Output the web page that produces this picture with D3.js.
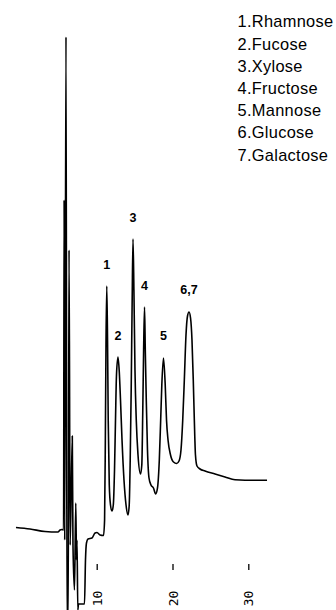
<!DOCTYPE html>
<html>
<head>
<meta charset="utf-8">
<script src="https://cdn.jsdelivr.net/npm/d3@7"></script>
<style>
  html, body { margin: 0; padding: 0; background: #fff; }
  svg { display: block; }
</style>
</head>
<body>
<svg id="chart" width="336" height="610"></svg>
<script>
// Retention time (min)
const time = [-0.65, 1.20, 3.18, 4.89, 5.16, 5.42, 5.63, 5.70, 5.78, 5.95, 6.08, 6.24, 6.35, 6.50, 6.78, 6.87, 7.07, 7.24, 7.34, 7.40, 7.51, 7.60, 8.39, 8.52, 8.65, 8.85, 9.38, 9.78, 10.04, 10.44, 10.90, 11.04, 11.14, 11.23, 11.33, 11.43, 11.52, 11.66, 11.82, 12.02, 12.19, 12.35, 12.48, 12.61, 12.81, 12.98, 13.14, 13.34, 13.60, 13.87, 14.13, 14.29, 14.42, 14.55, 14.68, 14.79, 14.91, 15.05, 15.22, 15.45, 15.78, 15.95, 16.08, 16.19, 16.31, 16.41, 16.54, 16.70, 16.90, 17.16, 17.49, 17.78, 18.02, 18.26, 18.44, 18.59, 18.81, 19.04, 19.21, 19.41, 19.74, 20.13, 20.55, 20.86, 21.12, 21.35, 21.56, 21.78, 21.98, 22.18, 22.38, 22.57, 22.74, 22.88, 23.03, 23.23, 23.63, 24.29, 25.61, 26.93, 28.25, 29.57, 32.47];
// Detector signal (relative units)
const signal = [13.49, 13.23, 12.79, 12.70, 13.05, 13.14, 13.05, 71.25, 11.29, 100.0, -2.82, -2.82, 62.43, 10.41, 29.63, 10.41, 2.47, 17.81, 7.76, 11.29, -1.06, 0, 0, 7.76, 10.76, 11.46, 11.64, 12.52, 12.61, 12.17, 12.08, 14.81, 28.92, 46.56, 56.08, 46.56, 32.45, 20.99, 17.46, 16.40, 17.46, 23.63, 32.45, 40.39, 43.56, 40.92, 35.98, 28.92, 21.87, 17.46, 15.70, 17.46, 25.40, 37.74, 53.62, 64.37, 55.38, 41.27, 32.45, 26.28, 22.93, 24.52, 34.22, 44.80, 52.38, 44.80, 35.98, 27.16, 22.22, 20.99, 20.46, 19.40, 20.46, 25.40, 32.45, 38.62, 43.39, 38.62, 32.45, 28.92, 26.28, 25.04, 24.78, 25.22, 27.16, 32.45, 39.51, 47.44, 50.79, 51.50, 50.44, 46.56, 39.51, 32.45, 26.28, 24.34, 23.81, 23.46, 22.93, 22.40, 21.90, 21.82, 21.82];

// Peak annotations
const peakLabels = ["1", "2", "3", "4", "5", "6,7"];
const peakTimes  = [11.33, 12.81, 14.79, 16.31, 18.81, 22.18];
const peakValues = [56.08, 43.56, 64.37, 52.38, 43.39, 51.50];

// Legend
const legendItems = ["1.Rhamnose", "2.Fucose", "3.Xylose", "4.Fructose", "5.Mannose", "6.Glucose", "7.Galactose"];

// Axis ticks
const tickValues = [10, 20, 30];
const tickLabels = ["10", "20", "30"];

const svg = d3.select("#chart");

const x = d3.scaleLinear().domain([0, 30]).range([20.9, 248.3]);
const y = d3.scaleLinear().domain([0, 100]).range([604, 37]);

const pts = time.map((t, i) => [t, signal[i]]);

const line = d3.line()
  .x(d => x(d[0]))
  .y(d => y(d[1]))
  .curve(d3.curveMonotoneX);

svg.append("path")
  .datum(pts)
  .attr("d", line)
  .attr("fill", "none")
  .attr("stroke", "#000")
  .attr("stroke-width", 1.6)
  .attr("stroke-linejoin", "round");

// Axis with tick marks only
const axis = d3.axisBottom(x).tickValues(tickValues).tickSize(6).tickFormat("");
const gAxis = svg.append("g").attr("transform", "translate(0,564)").call(axis);
gAxis.select(".domain").remove();
gAxis.selectAll(".tick line").attr("stroke", "#000").attr("stroke-width", 1.3);
gAxis.selectAll(".tick").each(function(d, i) {
  d3.select(this).append("text")
    .attr("transform", "translate(0,34.5) rotate(-90)")
    .attr("text-anchor", "middle")
    .attr("dominant-baseline", "central")
    .attr("fill", "#000")
    .style("font-family", "'DejaVu Sans Mono', monospace")
    .style("font-size", "13px")
    .text(tickLabels[i]);
});

// Peak labels
svg.append("g").selectAll("text")
  .data(peakLabels)
  .join("text")
  .attr("x", (d, i) => x(peakTimes[i]))
  .attr("y", (d, i) => y(peakValues[i]) - 17.5)
  .attr("text-anchor", "middle")
  .style("font-family", "'Liberation Sans', Arial, sans-serif")
  .style("font-weight", "bold")
  .style("font-size", "12.5px")
  .text(d => d);

// Legend
svg.append("g").selectAll("text")
  .data(legendItems)
  .join("text")
  .attr("x", 237.5)
  .attr("y", (d, i) => 27.3 + i * 22.2)
  .style("font-family", "'Liberation Sans', Arial, sans-serif")
  .style("font-size", "16.4px")
  .style("letter-spacing", "0.3px")
  .text(d => d);
</script>
</body>
</html>
